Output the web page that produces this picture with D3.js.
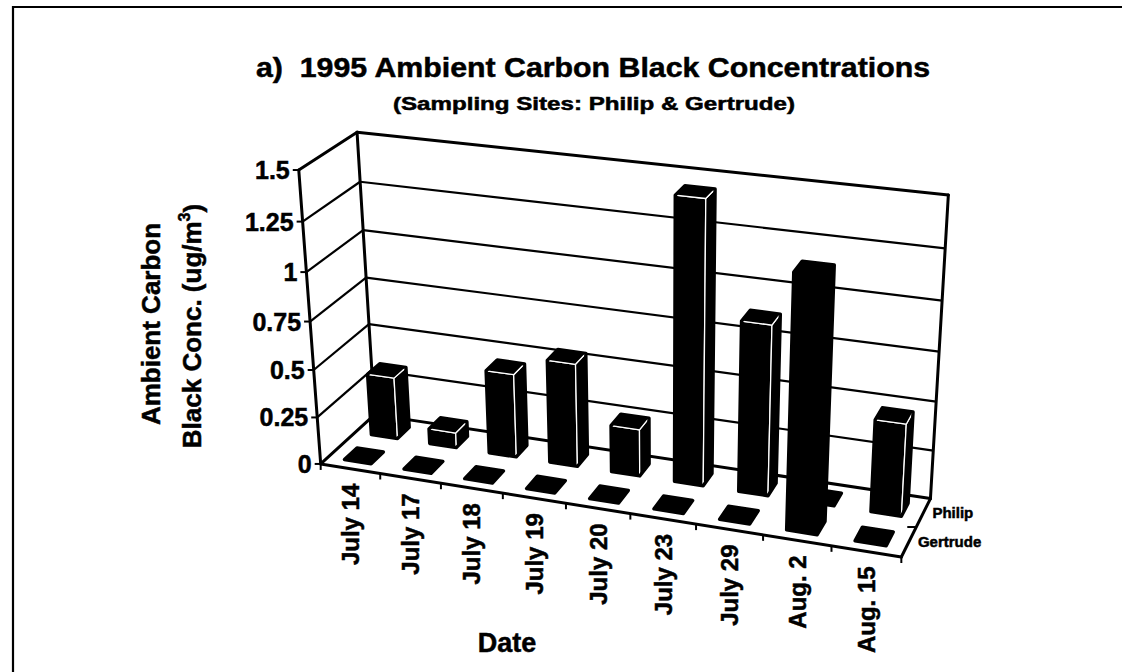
<!DOCTYPE html>
<html>
<head>
<meta charset="utf-8">
<script src="https://cdn.jsdelivr.net/npm/d3@7"></script>
<style>
  body { margin: 0; background: #fff; }
  svg { display: block; }
  text { font-family: "Liberation Sans", Arial, Helvetica, sans-serif; font-weight: bold; fill: #000;
         stroke: #000; stroke-width: 0.5px; }
</style>
</head>
<body>
<svg id="chart" width="1122" height="672"></svg>
<script>
// ---- data ----
const categories = ["July 14", "July 17", "July 18", "July 19", "July 20", "July 23", "July 29", "Aug. 2", "Aug. 15"];
const seriesNames = ["Philip", "Gertrude"];
const philip   = [0.33, 0.08, 0.44, 0.54, 0.245, 1.44, 0.87, 0, 0.47];
const gertrude = [0, 0, 0, 0, 0, 0, 0, 1.26, 0];
const yTicks = [0, 0.25, 0.5, 0.75, 1, 1.25, 1.5];
const yTickLabels = ["0", "0.25", "0.5", "0.75", "1", "1.25", "1.5"];

const titleText = "a)  1995 Ambient Carbon Black Concentrations";
const subtitleText = "(Sampling Sites: Philip & Gertrude)";
const xTitle = "Date";

// ---- camera: perspective fitted to the plot box corners ----
// each entry: unit-box coordinate (X along dates, Y up, Z into depth) -> page point
const boxAnchors = [
  [0, 0, 0, 322, 463], [0, 1, 0, 297, 171], [0, 0, 1, 373, 418], [0, 1, 1, 359, 132],
  [1, 0, 1, 930, 498], [1, 1, 1, 948, 195], [1, 0, 0, 902, 558],
  [1/9, 0, 0, 380, 472.5], [2/9, 0, 0, 441.7, 482.6], [3/9, 0, 0, 503.3, 492.7],
  [4/9, 0, 0, 565.7, 502.9], [5/9, 0, 0, 630, 513.4], [6/9, 0, 0, 696, 524.2], [7/9, 0, 0, 763.3, 535.2],
  [0, 1/6, 0, 318.1, 417], [0, 2/6, 0, 314.0, 370], [0, 3/6, 0, 310.0, 323],
  [0, 4/6, 0, 305.6, 272], [0, 5/6, 0, 301.4, 222],
  [0, 1/6, 1, 370.7, 370], [0, 2/6, 1, 368.4, 323], [0, 3/6, 1, 366.2, 277],
  [0, 4/6, 1, 363.9, 230], [0, 5/6, 1, 361.5, 181]
];

function fitCamera(pts) {
  const n = 11;
  const M = Array.from({length: n}, () => new Array(n).fill(0));
  const r = new Array(n).fill(0);
  const add = (row, val) => {
    for (let i = 0; i < n; i++) {
      r[i] += row[i] * val;
      for (let j = 0; j < n; j++) M[i][j] += row[i] * row[j];
    }
  };
  pts.forEach(([X, Y, Z, u, v]) => {
    add([X, Y, Z, 1, 0, 0, 0, 0, -u * X, -u * Y, -u * Z], u);
    add([0, 0, 0, 0, X, Y, Z, 1, -v * X, -v * Y, -v * Z], v);
  });
  for (let c = 0; c < n; c++) {
    let piv = c;
    for (let k = c + 1; k < n; k++) if (Math.abs(M[k][c]) > Math.abs(M[piv][c])) piv = k;
    [M[c], M[piv]] = [M[piv], M[c]];
    [r[c], r[piv]] = [r[piv], r[c]];
    for (let k = 0; k < n; k++) {
      if (k === c) continue;
      const f = M[k][c] / M[c][c];
      for (let j = c; j < n; j++) M[k][j] -= f * M[c][j];
      r[k] -= f * r[c];
    }
  }
  return r.map((v, i) => v / M[i][i]);
}
const cam = fitCamera(boxAnchors);
function P(X, Y, Z) {
  const w = cam[8] * X + cam[9] * Y + cam[10] * Z + 1;
  return [(cam[0] * X + cam[1] * Y + cam[2] * Z + cam[3]) / w,
          (cam[4] * X + cam[5] * Y + cam[6] * Z + cam[7]) / w];
}
const pathOf = pts => "M" + pts.map(p => p[0].toFixed(2) + "," + p[1].toFixed(2)).join("L") + "Z";
const lineOf = (a, b) => "M" + a[0].toFixed(2) + "," + a[1].toFixed(2) + "L" + b[0].toFixed(2) + "," + b[1].toFixed(2);

// ---- scales (unit box) ----
const x = d3.scaleBand().domain(categories).range([0, 1]).paddingInner(0.55).paddingOuter(0.275);
const xEdge = d3.scaleLinear().domain([0, categories.length]).range([0, 1]);
const z = d3.scaleBand().domain(["Gertrude", "Philip"]).range([0, 1]).paddingInner(0.54).paddingOuter(0.27);
const y = d3.scaleLinear().domain([0, 1.5]).range([0, 1]);

const svg = d3.select("#chart");

// page frame
svg.append("path").attr("d", "M13,672V7H1122")
  .attr("fill", "none").attr("stroke", "#000").attr("stroke-width", 2.2);

// titles
svg.append("text").attr("x", 256).attr("y", 77).attr("font-size", 28)
  .style("white-space", "pre").attr("textLength", 674).attr("lengthAdjust", "spacingAndGlyphs")
  .text(titleText);
svg.append("text").attr("x", 393).attr("y", 110).attr("font-size", 18)
  .attr("textLength", 402).attr("lengthAdjust", "spacingAndGlyphs")
  .text(subtitleText);

// ---- walls and floor ----
const g = svg.append("g");
const wallFaces = [
  [P(0,0,0), P(1,0,0), P(1,0,1), P(0,0,1)],
  [P(0,0,0), P(0,1,0), P(0,1,1), P(0,0,1)],
  [P(0,0,1), P(1,0,1), P(1,1,1), P(0,1,1)]
];
g.selectAll("path.wall").data(wallFaces).join("path").attr("class", "wall")
  .attr("d", pathOf).attr("fill", "#fff").attr("stroke", "none");

// gridlines on left and back walls
const inner = yTicks.filter(t => t > 0 && t < 1.5);
g.selectAll("path.gridL").data(inner).join("path").attr("class", "gridL")
  .attr("d", t => lineOf(P(0, y(t), 0), P(0, y(t), 1)))
  .attr("stroke", "#000").attr("stroke-width", 2.2).attr("fill", "none");
g.selectAll("path.gridB").data(inner).join("path").attr("class", "gridB")
  .attr("d", t => lineOf(P(0, y(t), 1), P(1, y(t), 1)))
  .attr("stroke", "#000").attr("stroke-width", 2.2).attr("fill", "none");

// box edges
const edges = [
  [[0,0,0],[0,1,0]], [[0,1,0],[0,1,1]], [[0,0,1],[0,1,1]], [[0,1,1],[1,1,1]],
  [[1,1,1],[1,0,1]], [[0,0,0],[0,0,1]], [[0,0,1],[1,0,1]], [[1,0,1],[1,0,0]], [[0,0,0],[1,0,0]]
];
g.selectAll("path.edge").data(edges).join("path").attr("class", "edge")
  .attr("d", e => lineOf(P(...e[0]), P(...e[1])))
  .attr("stroke", "#000").attr("stroke-width", 3).attr("fill", "none").attr("stroke-linecap", "round");

// value axis ticks + labels
yTicks.forEach((t, i) => {
  const p = P(0, y(t), 0);
  g.append("path").attr("d", lineOf(p, [p[0] - 6, p[1]])).attr("stroke", "#000").attr("stroke-width", 2);
  g.append("text").attr("x", p[0] - 9).attr("y", p[1]).attr("dy", "0.36em")
    .attr("text-anchor", "end").attr("font-size", 25).text(yTickLabels[i]);
});

// category axis ticks + labels
d3.range(categories.length + 1).forEach(k => {
  const p = P(xEdge(k), 0, 0);
  g.append("path").attr("d", lineOf(p, [p[0], p[1] + 6])).attr("stroke", "#000").attr("stroke-width", 2);
});
categories.forEach(c => {
  const p = P(x(c) + x.bandwidth() / 2, 0, 0);
  g.append("text").attr("transform", `translate(${p[0]},${p[1] + 15}) rotate(-90)`)
    .attr("dy", "0.36em").attr("text-anchor", "end").attr("font-size", 24).text(c);
});

// series axis tick + labels
{
  const p = P(1, 0, 0.5);
  g.append("path").attr("d", lineOf(p, [p[0] - 9, p[1]])).attr("stroke", "#000").attr("stroke-width", 2);
}
seriesNames.forEach(s => {
  const p = P(1, 0, z(s) + z.bandwidth() / 2);
  g.append("text").attr("x", p[0] + 9).attr("y", p[1]).attr("dy", "0.36em")
    .attr("font-size", 15).text(s);
});

// axis titles
svg.append("text").attr("transform", "translate(151,324) rotate(-90)")
  .attr("text-anchor", "middle").attr("dy", "0.36em").attr("font-size", 26).text("Ambient Carbon");
const t2 = svg.append("text").attr("transform", "translate(192,326) rotate(-90)")
  .attr("text-anchor", "middle").attr("dy", "0.36em").attr("font-size", 26);
t2.append("tspan").text("Black Conc. (ug/m");
t2.append("tspan").attr("font-size", 16).attr("dy", "-0.7em").text("3");
t2.append("tspan").attr("dy", "0.45em").text(")");
svg.append("text").attr("x", 507).attr("y", 642).attr("dy", "0.36em")
  .attr("text-anchor", "middle").attr("font-size", 27).text(xTitle);

// ---- 3D columns ----
function boxFaces(x0, x1, y0, y1, z0, z1) {
  const c = (a, b, d) => [a, b, d];
  return [
    [c(x0,y0,z0), c(x0,y1,z0), c(x1,y1,z0), c(x1,y0,z0)], // front
    [c(x0,y0,z1), c(x1,y0,z1), c(x1,y1,z1), c(x0,y1,z1)], // back
    [c(x0,y0,z0), c(x0,y0,z1), c(x0,y1,z1), c(x0,y1,z0)], // left
    [c(x1,y0,z0), c(x1,y1,z0), c(x1,y1,z1), c(x1,y0,z1)], // right
    [c(x0,y0,z0), c(x1,y0,z0), c(x1,y0,z1), c(x0,y0,z1)], // bottom
    [c(x0,y1,z0), c(x0,y1,z1), c(x1,y1,z1), c(x1,y1,z0)]  // top
  ];
}
const area = pts => d3.polygonArea(pts);
const frontSign = Math.sign(area(boxFaces(0.4, 0.6, 0, 0.5, 0.4, 0.6)[0].map(p => P(...p))));

const barRows = [
  {name: "Philip", values: philip, inset: true},
  {name: "Gertrude", values: gertrude, inset: false}
];
const bars = svg.append("g");
barRows.forEach(row => {
  const z0 = z(row.name), z1 = z0 + z.bandwidth();
  categories.forEach((cat, i) => {
    const x0 = x(cat), x1 = x0 + x.bandwidth();
    const v = y(row.values[i]);
    const faces = boxFaces(x0, x1, 0, v, z0, z1).map(f => f.map(p => P(...p)));
    const visible = faces.filter(f => Math.sign(area(f)) === frontSign || (v === 0 && f === faces[5]));
    const bg = bars.append("g");
    bg.selectAll("path").data(visible).join("path")
      .attr("d", pathOf).attr("fill", "#000")
      .attr("stroke", row.inset && v > 0 ? "#fff" : "#000")
      .attr("stroke-width", row.inset && v > 0 ? 1.3 : 1.5)
      .attr("stroke-linejoin", "round");
    const hull = d3.polygonHull(faces.flat());
    bg.append("path").attr("d", pathOf(hull)).attr("fill", "none")
      .attr("stroke", "#000").attr("stroke-width", 3.4).attr("stroke-linejoin", "round");
  });
});
</script>
</body>
</html>
